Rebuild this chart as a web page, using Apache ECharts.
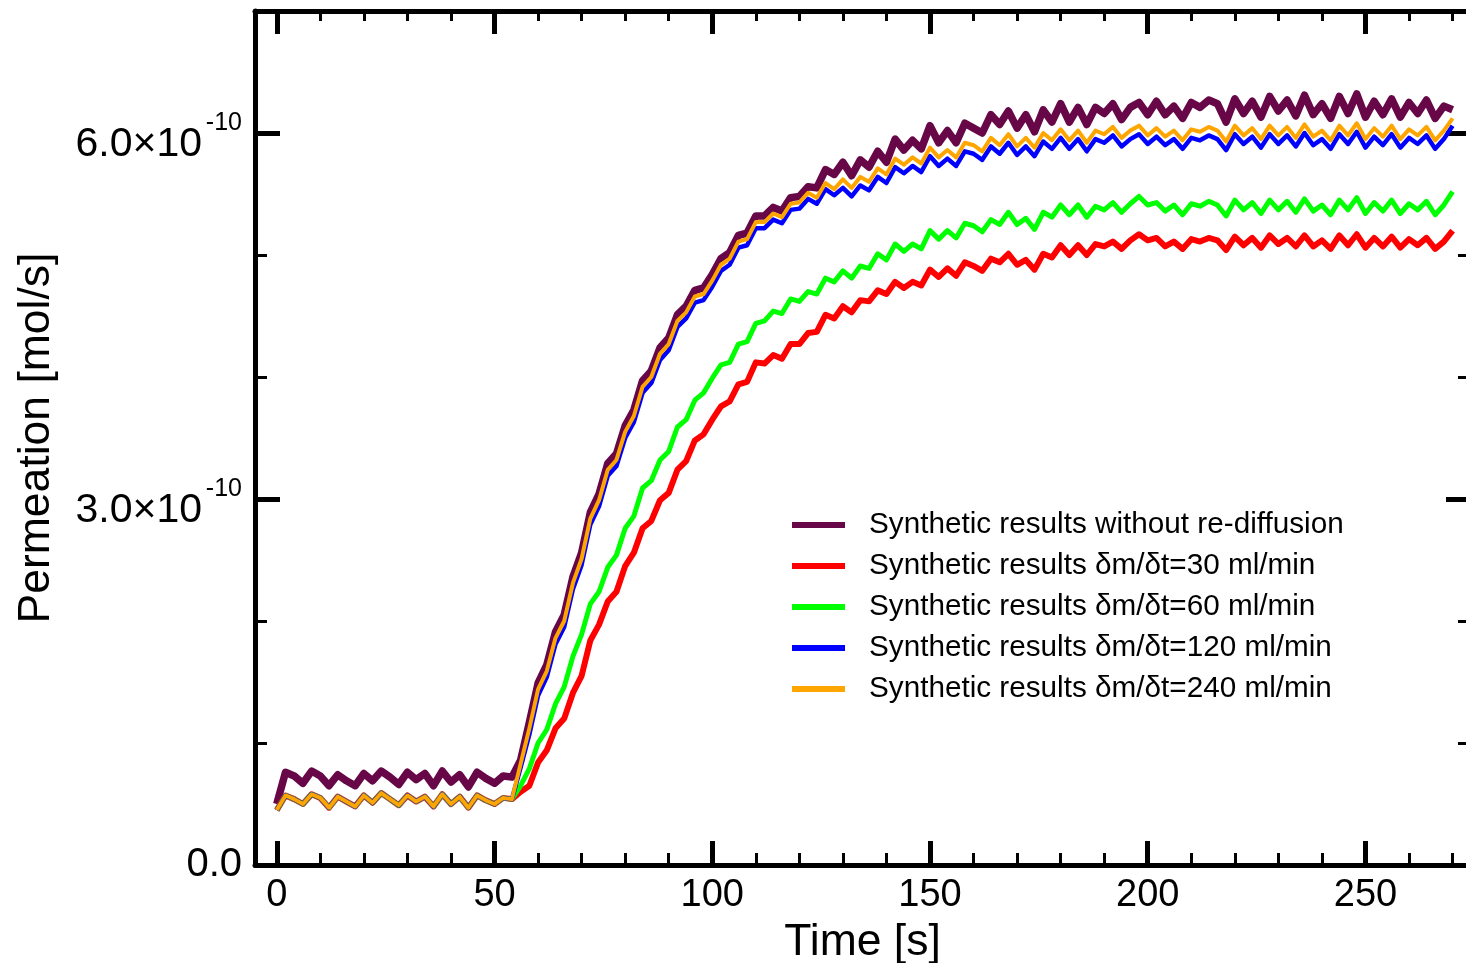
<!DOCTYPE html>
<html>
<head>
<meta charset="utf-8">
<script src="https://cdn.jsdelivr.net/npm/echarts@6/dist/echarts.min.js"></script>
<style>
html,body{margin:0;padding:0;background:#fff;overflow:hidden;}
#chart{width:1466px;height:963px;}
</style>
</head>
<body>
<div id="chart"></div>
<script>
// Time [s]
const time = [0,2,4,6,8,10,12,14,16,18,20,22,24,26,28,30,32,34,36,38,40,42,44,46,48,50,52,54,56,58,60,62,64,66,68,70,72,74,76,78,80,82,84,86,88,90,92,94,96,98,100,102,104,106,108,110,112,114,116,118,120,122,124,126,128,130,132,134,136,138,140,142,144,146,148,150,152,154,156,158,160,162,164,166,168,170,172,174,176,178,180,182,184,186,188,190,192,194,196,198,200,202,204,206,208,210,212,214,216,218,220,222,224,226,228,230,232,234,236,238,240,242,244,246,248,250,252,254,256,258,260,262,264,266,268,270];

// Permeation values in units of 1e-10 mol/s
const noRediffusion = [0.50,0.76,0.73,0.67,0.77,0.73,0.65,0.74,0.69,0.65,0.75,0.69,0.77,0.72,0.66,0.76,0.70,0.75,0.65,0.77,0.68,0.74,0.64,0.76,0.71,0.67,0.73,0.72,
0.86,1.17,1.49,1.64,1.91,2.05,2.36,2.56,2.89,3.04,3.29,3.37,3.60,3.73,3.97,4.05,4.24,4.32,4.51,4.58,4.71,4.73,4.84,4.97,5.02,5.16,5.18,5.32,5.32,5.39,5.36,5.47,5.48,5.56,5.55,5.70,5.66,
5.76,5.65,5.78,5.72,5.85,5.76,5.95,5.86,5.94,5.87,6.06,5.92,6.02,5.92,6.08,6.04,6.00,6.15,6.07,6.18,6.04,6.15,6.01,6.19,6.09,6.24,6.09,6.21,6.07,6.21,6.16,6.24,6.11,6.21,6.25,6.15,
6.26,6.15,6.22,6.12,6.25,6.21,6.27,6.24,6.09,6.28,6.16,6.26,6.13,6.30,6.18,6.27,6.14,6.31,6.15,6.24,6.12,6.30,6.16,6.32,6.13,6.26,6.15,6.28,6.13,6.25,6.16,6.27,6.12,6.22,6.19];

const rate30 = [0.45,0.57,0.54,0.50,0.58,0.55,0.47,0.56,0.52,0.48,0.57,0.51,0.59,0.54,0.49,0.57,0.52,0.56,0.48,0.58,0.50,0.56,0.47,0.57,0.53,0.50,0.55,0.54,
0.60,0.65,0.84,0.94,1.12,1.20,1.41,1.55,1.84,1.97,2.16,2.24,2.45,2.56,2.76,2.82,2.99,3.05,3.24,3.31,3.48,3.53,3.65,3.76,3.80,3.94,3.96,4.12,4.11,4.18,4.15,4.27,4.27,4.36,4.37,4.51,4.48,
4.58,4.53,4.63,4.62,4.71,4.68,4.78,4.73,4.78,4.75,4.88,4.82,4.89,4.83,4.94,4.91,4.87,4.97,4.94,5.01,4.92,4.96,4.88,5.01,4.98,5.08,5.00,5.08,5.00,5.09,5.07,5.11,5.05,5.12,5.17,5.12,
5.14,5.07,5.11,5.05,5.13,5.11,5.14,5.12,5.04,5.15,5.08,5.14,5.06,5.16,5.09,5.14,5.07,5.16,5.07,5.12,5.05,5.16,5.08,5.17,5.06,5.14,5.07,5.15,5.06,5.13,5.08,5.14,5.05,5.11,5.20];

const rate60 = [0.45,0.57,0.54,0.50,0.58,0.55,0.47,0.56,0.52,0.48,0.57,0.51,0.59,0.54,0.49,0.57,0.52,0.56,0.48,0.58,0.50,0.56,0.47,0.57,0.53,0.50,0.55,0.54,
0.65,0.79,1.00,1.11,1.32,1.46,1.71,1.89,2.14,2.24,2.44,2.54,2.76,2.86,3.09,3.15,3.32,3.39,3.59,3.65,3.81,3.87,3.99,4.10,4.12,4.27,4.29,4.44,4.46,4.54,4.52,4.64,4.62,4.70,4.68,4.81,4.78,
4.87,4.81,4.91,4.89,5.01,4.96,5.09,5.03,5.09,5.05,5.20,5.13,5.20,5.14,5.26,5.24,5.19,5.29,5.25,5.35,5.25,5.30,5.21,5.35,5.31,5.41,5.33,5.41,5.31,5.40,5.37,5.43,5.35,5.42,5.48,5.41,
5.43,5.36,5.41,5.33,5.42,5.40,5.44,5.41,5.32,5.45,5.37,5.43,5.34,5.45,5.37,5.44,5.35,5.46,5.36,5.41,5.33,5.45,5.37,5.47,5.34,5.43,5.36,5.45,5.34,5.42,5.37,5.44,5.33,5.41,5.52];

const rate120 = [0.45,0.57,0.54,0.50,0.58,0.55,0.47,0.56,0.52,0.48,0.57,0.51,0.59,0.54,0.49,0.57,0.52,0.56,0.48,0.58,0.50,0.56,0.47,0.57,0.53,0.50,0.55,0.54,
0.80,1.07,1.39,1.54,1.81,1.95,2.26,2.46,2.79,2.94,3.19,3.27,3.50,3.63,3.87,3.95,4.14,4.22,4.41,4.48,4.61,4.63,4.74,4.87,4.92,5.06,5.08,5.22,5.22,5.29,5.26,5.37,5.38,5.46,5.42,5.54,5.49,
5.55,5.48,5.57,5.53,5.64,5.59,5.72,5.67,5.73,5.68,5.81,5.73,5.79,5.73,5.85,5.83,5.78,5.89,5.83,5.92,5.82,5.89,5.81,5.93,5.87,5.96,5.87,5.95,5.85,5.95,5.92,5.98,5.89,5.95,5.99,5.91,
5.97,5.90,5.95,5.87,5.96,5.94,5.98,5.95,5.86,5.99,5.91,5.97,5.88,5.99,5.91,5.98,5.89,6.00,5.90,5.95,5.87,5.99,5.91,6.01,5.88,5.97,5.90,5.99,5.88,5.96,5.91,5.98,5.87,5.95,6.06];

const rate240 = [0.45,0.57,0.54,0.50,0.58,0.55,0.47,0.56,0.52,0.48,0.57,0.51,0.59,0.54,0.49,0.57,0.52,0.56,0.48,0.58,0.50,0.56,0.47,0.57,0.53,0.50,0.55,0.54,
0.83,1.12,1.44,1.59,1.86,2.00,2.31,2.51,2.84,2.99,3.24,3.32,3.55,3.68,3.92,4.00,4.19,4.27,4.46,4.53,4.66,4.68,4.79,4.92,4.97,5.11,5.13,5.27,5.27,5.34,5.31,5.42,5.43,5.51,5.47,5.59,5.54,
5.62,5.55,5.64,5.60,5.71,5.66,5.79,5.74,5.80,5.75,5.88,5.80,5.86,5.80,5.92,5.90,5.85,5.96,5.90,5.99,5.89,5.96,5.88,6.00,5.94,6.03,5.94,6.02,5.92,6.02,5.99,6.05,5.96,6.02,6.06,5.98,
6.04,5.97,6.02,5.94,6.03,6.01,6.05,6.02,5.93,6.06,5.98,6.04,5.95,6.06,5.98,6.05,5.96,6.07,5.97,6.02,5.94,6.06,5.98,6.08,5.95,6.04,5.97,6.06,5.95,6.03,5.98,6.05,5.94,6.02,6.12];

const seriesNames = [
  'Synthetic results without re-diffusion',
  'Synthetic results \u03b4m/\u03b4t=30 ml/min',
  'Synthetic results \u03b4m/\u03b4t=60 ml/min',
  'Synthetic results \u03b4m/\u03b4t=120 ml/min',
  'Synthetic results \u03b4m/\u03b4t=240 ml/min'
];
const seriesValues = [noRediffusion, rate30, rate60, rate120, rate240];
const seriesColors = ['#670748', '#ff0000', '#00ff00', '#0000ff', '#ffa500'];
const seriesWidths = [7.5, 6, 5, 4.5, 4];

// Ticks and tick labels
const xMajorTicks = [0, 50, 100, 150, 200, 250];
const xMinorTicks = [10,20,30,40,60,70,80,90,110,120,130,140,160,170,180,190,210,220,230,240,260,270];
const yMajorTicks = [0, 3, 6];
const yMinorTicks = [1, 2, 4, 5];
const yMantissaLabels = ['3.0\u00d710', '6.0\u00d710'];
const yExponentLabel = '-10';
const yZeroLabel = '0.0';

const FONT = "'Liberation Sans', Arial, Helvetica, sans-serif";
const X_MIN = -5, X_MAX = 274, Y_MIN = 0, Y_MAX = 7;
// vertical offsets (in axis units) of the mantissa / exponent parts of the y labels
const MANT_SHIFT = -12 / 122, EXP_SHIFT = 10 / 122;

function baseAxis(pos, min, max) {
  return {
    type: 'value', position: pos, gridIndex: 0, min: min, max: max,
    axisLine: { show: false, onZero: false, lineStyle: { color: 'rgba(0,0,0,0)', width: 0 } },
    axisTick: { show: false },
    axisLabel: { show: false },
    splitLine: { show: false },
    splitArea: { show: false },
    minorTick: { show: false },
    minorSplitLine: { show: false },
    axisPointer: { show: false }
  };
}
function tickAxis(kind, pos, ticks, len, w, withLine) {
  const ax = kind === 'x' ? baseAxis(pos, X_MIN, X_MAX) : baseAxis(pos, Y_MIN, Y_MAX);
  if (withLine) {
    ax.axisLine = { show: true, onZero: false, lineStyle: { color: '#000', width: 5 } };
  }
  ax.axisTick = { show: true, inside: true, length: len, customValues: ticks, lineStyle: { color: '#000', width: w } };
  return ax;
}

const xMain = tickAxis('x', 'bottom', xMajorTicks, 24, 5, true);
xMain.axisLabel = { show: true, customValues: xMajorTicks, fontSize: 38, color: '#000', fontFamily: FONT, margin: 12 };
xMain.name = 'Time [s]';
xMain.nameLocation = 'middle';
xMain.nameGap = 50;
xMain.nameTextStyle = { fontSize: 44.5, color: '#000', fontFamily: FONT };

const yMain = tickAxis('y', 'left', yMajorTicks, 25, 5, true);
yMain.axisLabel = {
  show: true, customValues: [3 + MANT_SHIFT, 6 + MANT_SHIFT], fontSize: 41, color: '#000', fontFamily: FONT, margin: 53,
  formatter: v => (v < 4.5 ? yMantissaLabels[0] : yMantissaLabels[1])
};
yMain.name = 'Permeation [mol/s]';
yMain.nameLocation = 'middle';
yMain.nameGap = 196;
yMain.nameTextStyle = { fontSize: 44.5, color: '#000', fontFamily: FONT };

const yExp = baseAxis('left', Y_MIN, Y_MAX);
yExp.axisLabel = {
  show: true, customValues: [0, 3 + EXP_SHIFT, 6 + EXP_SHIFT], margin: 13, color: '#000', fontFamily: FONT,
  formatter: v => (v < 0.5 ? '{b|' + yZeroLabel + '}' : '{s|' + yExponentLabel + '}'),
  rich: {
    b: { fontSize: 40, color: '#000', fontFamily: FONT },
    s: { fontSize: 25, color: '#000', fontFamily: FONT }
  }
};

const chart = echarts.init(document.getElementById('chart'), null, { renderer: 'canvas' });
chart.setOption({
  animation: false,
  grid: { left: 255, top: 11, width: 1215, height: 854, containLabel: false, outerBoundsMode: 'none', show: false },
  xAxis: [
    xMain,
    tickAxis('x', 'bottom', xMinorTicks, 12, 3, false),
    tickAxis('x', 'top', xMajorTicks, 23, 5, true),
    tickAxis('x', 'top', xMinorTicks, 10, 3, false)
  ],
  yAxis: [
    yMain,
    tickAxis('y', 'left', yMinorTicks, 12, 3, false),
    yExp,
    tickAxis('y', 'right', yMajorTicks, 24, 5, false),
    tickAxis('y', 'right', yMinorTicks, 12, 3, false)
  ],
  legend: {
    orient: 'vertical', left: 792, top: 510, padding: 0,
    itemWidth: 53, itemHeight: 6, itemGap: 11, icon: 'rect',
    textStyle: { fontSize: 29.7, color: '#000', fontFamily: FONT, padding: [0, 0, 0, 19] },
    data: seriesNames
  },
  series: seriesNames.map((name, i) => ({
    name: name,
    type: 'line',
    xAxisIndex: 0, yAxisIndex: 0,
    showSymbol: false, symbol: 'none',
    smooth: false,
    lineStyle: { color: seriesColors[i], width: seriesWidths[i], join: 'round' },
    itemStyle: { color: seriesColors[i] },
    emphasis: { disabled: true },
    data: time.map((t, k) => [t, seriesValues[i][k]])
  }))
});
</script>
</body>
</html>
